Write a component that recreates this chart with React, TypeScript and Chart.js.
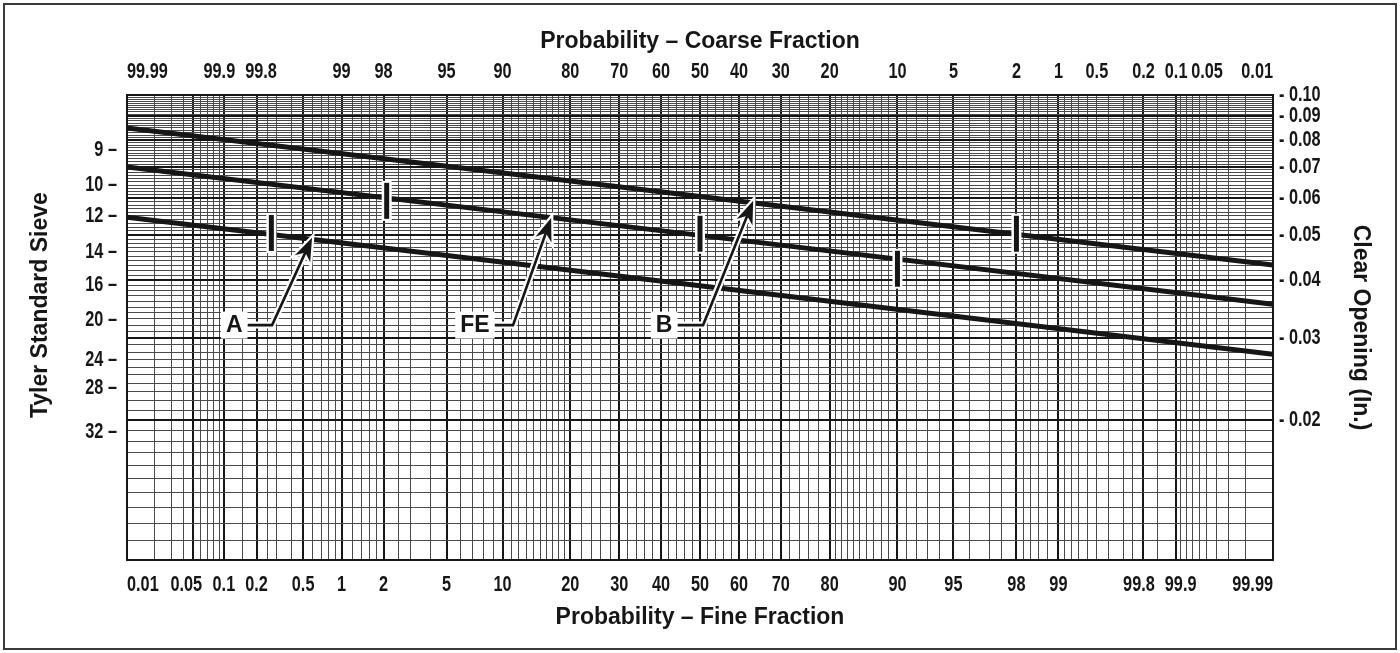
import React, { useEffect, useRef } from 'react';
import { Chart, registerables } from 'chart.js';

Chart.register(...registerables);

// ---------------- data ----------------
// fine-fraction probability (%) at which each line was read
const lineFinePct = [0.01, 50, 99.99];
// clear opening (in.) of the three distribution lines
const seriesTop = [0.0849, 0.0605, 0.0431];
const seriesMid = [0.07, 0.0499, 0.0355];
const seriesBot = [0.0546, 0.0389, 0.0277];

// axis tick labels (fine fraction along the bottom, coarse fraction along the top)
const bottomTickLabels = [0.01, 0.05, 0.1, 0.2, 0.5, 1, 2, 5, 10, 20, 30, 40, 50, 60, 70, 80, 90, 95, 98, 99, 99.8, 99.9, 99.99];
const topTickLabels = [99.99, 99.9, 99.8, 99, 98, 95, 90, 80, 70, 60, 50, 40, 30, 20, 10, 5, 2, 1, 0.5, 0.2, 0.1, 0.05, 0.01];
const openingTickLabels = [0.1, 0.09, 0.08, 0.07, 0.06, 0.05, 0.04, 0.03, 0.02];
const tylerMesh = ['9', '10', '12', '14', '16', '20', '24', '28', '32'];
const tylerOpening = [0.0762, 0.064, 0.0549, 0.046, 0.039, 0.0328, 0.0269, 0.0234, 0.0189];

// probability-paper grid (fine %, lower half; upper half mirrored)
const gridFineLower = [
  0.01, 0.02, 0.03, 0.04, 0.05, 0.06, 0.07, 0.08, 0.09, 0.1, 0.15, 0.2, 0.25, 0.3, 0.4,
  0.5, 0.6, 0.7, 0.8, 0.9, 1, 1.2, 1.4, 1.6, 1.8, 2, 2.5, 3, 4, 5, 6, 7, 8, 9, 10, 11, 12,
  13, 14, 15, 16, 17, 18, 19, 20, 22, 24, 26, 28, 30, 32, 34, 36, 38, 40, 42, 44, 46, 48, 50,
];

// cut markers on the lines
const markerFinePct = [0.27, 2.1, 50, 90, 98];
const markerOpening = [0.0505, 0.0592, 0.0503, 0.0423, 0.0503];

// callouts
const calloutText = ['A', 'FE', 'B'];
const calloutTipFinePct = [0.59, 16.7, 63.5];
const calloutTipOpening = [0.0493, 0.0544, 0.0592];
const calloutElbowFinePct = [0.274, 11.25, 50.8];
const calloutLabelFinePct = [0.125, 7.2, 40.8];
const calloutLabelOpening = [0.032, 0.032, 0.032];

// ---------------- helpers ----------------
function probit(p: number): number {
  const a = [-3.969683028665376e1, 2.209460984245205e2, -2.759285104469687e2, 1.38357751867269e2, -3.066479806614716e1, 2.506628277459239];
  const b = [-5.447609879822406e1, 1.615858368580409e2, -1.556989798598866e2, 6.680131188771972e1, -1.328068155288572e1];
  const c = [-7.784894002430293e-3, -3.223964580411365e-1, -2.400758277161838, -2.549671029989035, 4.374664141464968, 2.938163982698783];
  const d = [7.784695709041462e-3, 3.224671290700398e-1, 2.445134137142996, 3.754408661907416];
  const pl = 0.02425;
  if (p < pl) {
    const q = Math.sqrt(-2 * Math.log(p));
    return (((((c[0] * q + c[1]) * q + c[2]) * q + c[3]) * q + c[4]) * q + c[5]) / ((((d[0] * q + d[1]) * q + d[2]) * q + d[3]) * q + 1);
  }
  if (p <= 1 - pl) {
    const q = p - 0.5;
    const r = q * q;
    return ((((((a[0] * r + a[1]) * r + a[2]) * r + a[3]) * r + a[4]) * r + a[5]) * q) / (((((b[0] * r + b[1]) * r + b[2]) * r + b[3]) * r + b[4]) * r + 1);
  }
  const q = Math.sqrt(-2 * Math.log(1 - p));
  return -(((((c[0] * q + c[1]) * q + c[2]) * q + c[3]) * q + c[4]) * q + c[5]) / ((((d[0] * q + d[1]) * q + d[2]) * q + d[3]) * q + 1);
}
const zOf = (pct: number) => probit(pct / 100);
const near = (a: number, b: number) => Math.abs(a - b) < 1e-7;

const gridFine: number[] = [...gridFineLower];
for (let i = gridFineLower.length - 2; i >= 0; i--) gridFine.push(+(100 - gridFineLower[i]).toFixed(4));
const gridOpening: number[] = [];
for (let k = 10; k <= 100; k++) gridOpening.push(k / 1000);
// top axis is reversed: keep its ticks ascending in value so 'inner' alignment works
const topTicksAsc = [...topTickLabels].reverse();

// small hand-setting nudges of crowded labels (spaces shift the visible text)
const nudgeLabel = (s: string) => {
  if (s === '0.05') return s + '   ';
  if (s === '99.8') return s + '  ';
  if (s === '99.9') return '  ' + s;
  return s;
};
const nudgeTopLabel = (s: string) => {
  if (s === '99.9') return s + '  ';
  if (s === '99.8') return '  ' + s;
  return s;
};

const Z_MIN = zOf(0.01);
const Z_MAX = zOf(99.99);

// "NarrowTick" is only a marker name: text in this family is drawn horizontally condensed
const NARROW_MARK = 'NarrowTick';
const FONT_NARROW = `${NARROW_MARK}, 'Liberation Sans', Arial, sans-serif`;
const FONT_SANS = "'Liberation Sans', Arial, Helvetica, sans-serif";
const INK = '#161616';
const MINOR = '#4a4a4a';

const tickFont = { family: FONT_NARROW, size: 22, weight: 'bold' as const };
const titleFont = { family: FONT_SANS, size: 23, weight: 'bold' as const };

const condensePlugin = {
  id: 'condense',
  beforeDraw(chart: any) {
    const ctx = chart.ctx;
    if (ctx.__narrowPatched) return;
    ctx.__narrowPatched = true;
    const orig = ctx.fillText.bind(ctx);
    ctx.fillText = (text: string, x: number, y: number, maxWidth?: number) => {
      if (String(ctx.font).includes(NARROW_MARK)) {
        ctx.save();
        ctx.translate(x, y);
        ctx.scale(0.74, 1);
        orig(text, 0, 0);
        ctx.restore();
      } else if (maxWidth === undefined) {
        orig(text, x, y);
      } else {
        orig(text, x, y, maxWidth);
      }
    };
  },
};

const overlayPlugin = {
  id: 'overlay',
  beforeDraw(chart: any) {
    const { ctx, width, height } = chart;
    ctx.save();
    ctx.fillStyle = '#ffffff';
    ctx.fillRect(0, 0, width, height);
    ctx.strokeStyle = '#3a3a3a';
    ctx.lineWidth = 2;
    ctx.strokeRect(4, 4, width - 8, height - 8);
    ctx.restore();
  },
  afterDatasetsDraw(chart: any) {
    const { ctx } = chart;
    const xs = chart.scales.x;
    const ys = chart.scales.y;
    ctx.save();
    const MARKER_LEN = 36;
    markerFinePct.forEach((p, i) => {
      const x = xs.getPixelForValue(zOf(p));
      const yc = ys.getPixelForValue(markerOpening[i]);
      ctx.fillStyle = '#ffffff';
      ctx.fillRect(x - 5, yc - MARKER_LEN / 2 - 2, 10, MARKER_LEN + 4);
      ctx.fillStyle = INK;
      ctx.fillRect(x - 2.5, yc - MARKER_LEN / 2, 5, MARKER_LEN);
    });

    ctx.font = `bold 23px ${FONT_SANS}`;
    calloutText.forEach((t, i) => {
      const tx = xs.getPixelForValue(zOf(calloutTipFinePct[i]));
      const ty = ys.getPixelForValue(calloutTipOpening[i]);
      const ex = xs.getPixelForValue(zOf(calloutElbowFinePct[i]));
      const lx = xs.getPixelForValue(zOf(calloutLabelFinePct[i]));
      const ly = ys.getPixelForValue(calloutLabelOpening[i]);
      const tw = ctx.measureText(t).width;
      const bw = tw + 10;
      const bh = 27;
      const dx = tx - ex;
      const dy = ty - ly;
      const len = Math.hypot(dx, dy);
      const ux = dx / len;
      const uy = dy / len;
      const L = 23;
      const W = 8.5;
      const bx = tx - ux * L;
      const by = ty - uy * L;
      const px = -uy;
      const py = ux;
      const nx = tx - ux * L * 0.7;
      const ny = ty - uy * L * 0.7;
      const head: [number, number][] = [
        [tx, ty],
        [bx + px * W, by + py * W],
        [nx, ny],
        [bx - px * W, by - py * W],
      ];
      const headPath = () => {
        ctx.beginPath();
        head.forEach(([x, y], k) => (k ? ctx.lineTo(x, y) : ctx.moveTo(x, y)));
        ctx.closePath();
      };
      ctx.lineJoin = 'miter';
      ctx.strokeStyle = '#ffffff';
      ctx.lineWidth = 7;
      ctx.beginPath();
      ctx.moveTo(lx + bw / 2, ly);
      ctx.lineTo(ex, ly);
      ctx.lineTo(nx, ny);
      ctx.stroke();
      headPath();
      ctx.lineWidth = 4.5;
      ctx.stroke();
      ctx.fillStyle = '#ffffff';
      ctx.fill();

      ctx.strokeStyle = INK;
      ctx.lineWidth = 2.6;
      ctx.beginPath();
      ctx.moveTo(lx + bw / 2, ly);
      ctx.lineTo(ex, ly);
      ctx.lineTo(nx + ux * 2, ny + uy * 2);
      ctx.stroke();
      headPath();
      ctx.fillStyle = INK;
      ctx.fill();

      ctx.fillStyle = '#ffffff';
      ctx.fillRect(lx - bw / 2, ly - bh / 2, bw, bh);
      ctx.fillStyle = INK;
      ctx.textAlign = 'center';
      ctx.textBaseline = 'middle';
      ctx.fillText(t, lx, ly + 1);
    });
    ctx.restore();
  },
};

const toPoints = (vals: number[]) => lineFinePct.map((p, i) => ({ x: zOf(p), y: vals[i] }));

export default function App() {
  const ref = useRef<HTMLCanvasElement>(null);
  useEffect(() => {
    if (!ref.current) return;
    const lineStyle = { borderColor: INK, borderWidth: 5, pointRadius: 0, tension: 0, fill: false, xAxisID: 'x', yAxisID: 'y' };
    const chart = new Chart(ref.current, {
      type: 'line',
      data: {
        datasets: [
          { label: 'top', data: toPoints(seriesTop), ...lineStyle },
          { label: 'middle', data: toPoints(seriesMid), ...lineStyle },
          { label: 'bottom', data: toPoints(seriesBot), ...lineStyle },
        ] as any,
      },
      options: {
        animation: false,
        responsive: false,
        devicePixelRatio: 1,
        layout: { padding: 0 },
        plugins: { legend: { display: false }, tooltip: { enabled: false } },
        scales: {
          x: {
            type: 'linear',
            position: 'bottom',
            min: Z_MIN,
            max: Z_MAX,
            bounds: 'data',
            afterBuildTicks: (s: any) => {
              s.ticks = gridFine.map((p) => ({ value: zOf(p) }));
            },
            afterFit: (s: any) => {
              s.height = 93;
            },
            ticks: {
              autoSkip: false,
              maxRotation: 0,
              minRotation: 0,
              align: 'inner',
              padding: 12,
              color: INK,
              font: tickFont,
              callback: (_v: any, i: number) => {
                const p = gridFine[i];
                return bottomTickLabels.some((l) => near(l, p)) ? nudgeLabel(String(p)) : '';
              },
            },
            grid: {
              drawTicks: false,
              color: (c: any) => (bottomTickLabels.some((l) => near(l, gridFine[c.index])) ? INK : MINOR),
              lineWidth: (c: any) => (bottomTickLabels.some((l) => near(l, gridFine[c.index])) ? 2 : 1),
            },
            border: { display: true, color: INK, width: 2 },
            title: { display: true, text: 'Probability – Fine Fraction', color: INK, font: titleFont, padding: { top: 0, bottom: 22 } },
          },
          x2: {
            type: 'linear',
            position: 'top',
            reverse: true,
            min: Z_MIN,
            max: Z_MAX,
            bounds: 'data',
            afterBuildTicks: (s: any) => {
              s.ticks = topTicksAsc.map((p) => ({ value: zOf(p) }));
            },
            afterFit: (s: any) => {
              s.height = 95;
            },
            ticks: {
              autoSkip: false,
              maxRotation: 0,
              minRotation: 0,
              align: 'inner',
              padding: 10,
              color: INK,
              font: tickFont,
              callback: (_v: any, i: number) => nudgeTopLabel(String(topTicksAsc[i])),
            },
            grid: { display: false, drawTicks: false },
            border: { display: true, color: INK, width: 2 },
            title: { display: true, text: 'Probability – Coarse Fraction', color: INK, font: titleFont, padding: { top: 28, bottom: 0 } },
          },
          y: {
            type: 'logarithmic',
            position: 'right',
            min: 0.01,
            max: 0.1,
            bounds: 'data',
            afterBuildTicks: (s: any) => {
              s.ticks = gridOpening.map((v) => ({ value: v }));
            },
            afterFit: (s: any) => {
              s.width = 127;
            },
            ticks: {
              autoSkip: false,
              padding: 6,
              color: INK,
              font: tickFont,
              callback: (_v: any, i: number) => {
                const o = gridOpening[i];
                return openingTickLabels.some((l) => near(l, o)) ? '- ' + o.toFixed(2) : '';
              },
            },
            grid: {
              drawTicks: false,
              color: (c: any) => (Math.round(gridOpening[c.index] * 1000) % 10 === 0 ? INK : MINOR),
              lineWidth: (c: any) => (Math.round(gridOpening[c.index] * 1000) % 10 === 0 ? 2 : 1),
            },
            border: { display: true, color: INK, width: 2 },
            title: { display: true, text: 'Clear Opening (In.)', color: INK, font: titleFont, padding: { top: 26, bottom: 0 } },
          },
          yL: {
            type: 'logarithmic',
            position: 'left',
            min: 0.01,
            max: 0.1,
            bounds: 'data',
            afterBuildTicks: (s: any) => {
              s.ticks = tylerOpening.map((v) => ({ value: v }));
            },
            afterFit: (s: any) => {
              s.width = 127;
            },
            ticks: {
              autoSkip: false,
              padding: 10,
              color: INK,
              font: tickFont,
              callback: (_v: any, i: number) => tylerMesh[i] + ' –',
            },
            grid: { display: false, drawTicks: false },
            border: { display: true, color: INK, width: 2 },
            title: { display: true, text: '       Tyler Standard Sieve', color: INK, font: titleFont, padding: { top: 27, bottom: 0 } },
          },
        } as any,
      },
      plugins: [condensePlugin, overlayPlugin],
    });
    return () => chart.destroy();
  }, []);

  return (
    <div style={{ position: 'absolute', left: 0, top: 0, width: 1400, height: 653, background: '#fff' }}>
      <canvas ref={ref} width={1400} height={653} style={{ display: 'block', width: 1400, height: 653 }} />
    </div>
  );
}
